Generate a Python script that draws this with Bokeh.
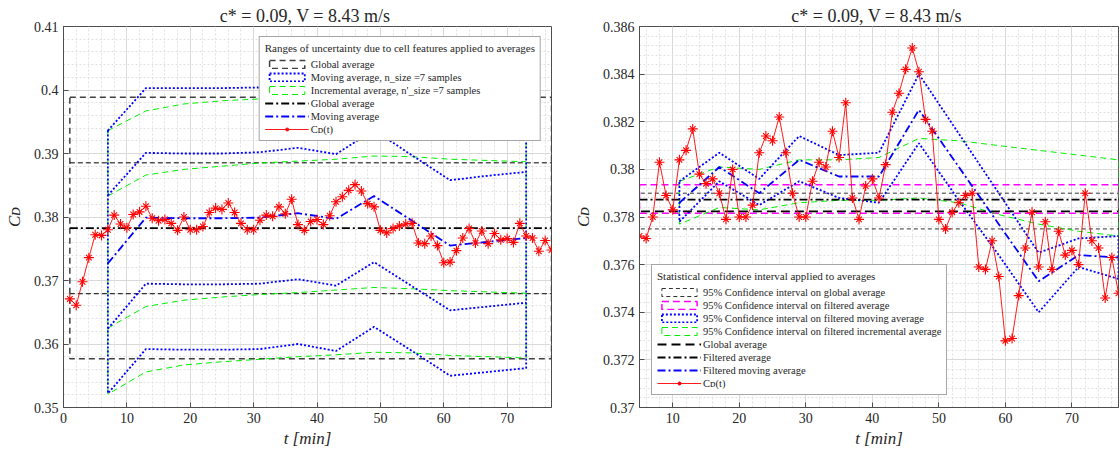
from bokeh.plotting import figure
from bokeh.models import (Range1d, FixedTicker, CustomJSTickFormatter,
                          Legend, LegendItem)
from bokeh.layouts import row
from bokeh.embed import file_html
from bokeh.resources import INLINE

# ---------------- data ----------------
t_cd = list(range(1, 78))
cd = [0.3671, 0.3661, 0.3698, 0.3736, 0.3772, 0.3771, 0.3780, 0.3803, 0.3789, 0.3783,
      0.3804, 0.3808, 0.3817, 0.3798, 0.3794, 0.3796, 0.3790, 0.3779, 0.3800, 0.3780,
      0.3780, 0.3785, 0.3807, 0.3814, 0.3812, 0.3822, 0.3807, 0.3790, 0.3780, 0.3780,
      0.3795, 0.3803, 0.3801, 0.3816, 0.3805, 0.3828, 0.3788, 0.3779, 0.3793, 0.3796,
      0.3788, 0.3802, 0.3824, 0.3832, 0.3842, 0.3851, 0.3841, 0.3821, 0.3816, 0.3779,
      0.3775, 0.3782, 0.3786, 0.3789, 0.3790, 0.3759, 0.3758, 0.3770, 0.3755, 0.3728,
      0.3729, 0.3747, 0.3767, 0.3782, 0.3759, 0.3778, 0.3758, 0.3774, 0.3764, 0.3766,
      0.3760, 0.3790, 0.3770, 0.3767, 0.3746, 0.3763, 0.3748]

# left panel: uncertainty due to cell features
global_avg = 0.37824
global_box = [0.35766, 0.39887]      # lower, upper
global_inner = [0.36792, 0.38853]    # lower, upper
t_ma = [7, 13, 19, 25, 31, 37, 43, 49, 55, 61, 67, 73]
ma = [0.3727, 0.3799, 0.3798, 0.3798, 0.3799, 0.3806, 0.3797, 0.3833, 0.3794, 0.3755, 0.3761, 0.3767]
ma_in_up = [0.3834, 0.3901, 0.3900, 0.3900, 0.3902, 0.3909, 0.3899, 0.3937, 0.3897, 0.3858, 0.3865, 0.3871]
ma_in_lo = [0.3624, 0.3695, 0.3694, 0.3694, 0.3695, 0.3702, 0.3692, 0.3729, 0.3691, 0.3653, 0.3659, 0.3665]
ma_out_up = [0.3936, 0.4003, 0.4003, 0.4003, 0.4004, 0.4011, 0.4002, 0.4040, 0.3999, 0.3959, 0.3965, 0.3972]
ma_out_lo = [0.3522, 0.3592, 0.3591, 0.3591, 0.3592, 0.3600, 0.3589, 0.3627, 0.3589, 0.3550, 0.3556, 0.3562]
inc_out_up = [0.3936, 0.3967, 0.3978, 0.3983, 0.3986, 0.3989, 0.3991, 0.3997, 0.3996, 0.3993, 0.3991, 0.3989]
inc_in_up = [0.3833, 0.3866, 0.3875, 0.3880, 0.3885, 0.3888, 0.3891, 0.3896, 0.3895, 0.3891, 0.3889, 0.3887]
inc_in_lo = [0.3625, 0.3659, 0.3669, 0.3674, 0.3678, 0.3681, 0.3685, 0.3689, 0.3687, 0.3684, 0.3682, 0.3680]
inc_out_lo = [0.3521, 0.3556, 0.3567, 0.3572, 0.3576, 0.3580, 0.3583, 0.3587, 0.3586, 0.3582, 0.3580, 0.3578]

# right panel: statistical confidence intervals
filt_avg = 0.37873
filt_ci = [0.37816, 0.37935]
glob_ci = [0.37750, 0.37900]
filt_start = 5
t_fma = [11, 17, 23, 29, 35, 41, 47, 53, 59, 65, 71, 77]
fma = [0.3786, 0.3801, 0.3790, 0.3804, 0.3797, 0.3797, 0.3825, 0.3801, 0.3777, 0.3753, 0.3764, 0.3763]
fma_up = [0.3795, 0.3807, 0.3796, 0.3814, 0.3806, 0.3807, 0.3840, 0.3815, 0.3790, 0.3765, 0.3771, 0.3772]
fma_lo = [0.3778, 0.3795, 0.3785, 0.3795, 0.3788, 0.3786, 0.3811, 0.3787, 0.3764, 0.3740, 0.3759, 0.3754]
finc_up = [0.3795, 0.3801, 0.3800, 0.3804, 0.3804, 0.3805, 0.3813, 0.3812, 0.3810, 0.3808, 0.3806, 0.3804]
finc_lo = [0.3777, 0.3784, 0.3783, 0.3786, 0.3787, 0.3787, 0.3788, 0.3786, 0.3781, 0.3777, 0.3774, 0.3772]

# tick labels
left_xticks = [0, 10, 20, 30, 40, 50, 60, 70]
left_yticks = [0.35, 0.36, 0.37, 0.38, 0.39, 0.40, 0.41]
right_xticks = [10, 20, 30, 40, 50, 60, 70]
right_yticks = [0.370, 0.372, 0.374, 0.376, 0.378, 0.380, 0.382, 0.384, 0.386]

title_txt = "c* = 0.09,  V = 8.43 m/s"

FONT = "Liberation Serif"
TXT = "#262626"
AX = "#4d4d4d"

fmt = CustomJSTickFormatter(code="return (Math.round(tick*1e6)/1e6).toString();")


def minor_of(lo, hi, step):
    n = int(round((hi - lo) / step))
    return [lo + i * step for i in range(n + 1)]


def make_fig(width, xr, yr, xticks, yticks, xminor, yminor, mleft, mright):
    p = figure(width=width, height=452, x_range=Range1d(*xr), y_range=Range1d(*yr),
               output_backend="svg", toolbar_location=None,
               min_border_left=mleft, min_border_right=mright,
               min_border_top=26, min_border_bottom=45)
    xt = FixedTicker(ticks=xticks, minor_ticks=xminor)
    yt = FixedTicker(ticks=yticks, minor_ticks=yminor)
    p.xaxis[0].ticker = xt
    p.yaxis[0].ticker = yt
    p.xgrid[0].ticker = xt
    p.ygrid[0].ticker = yt
    p.yaxis[0].formatter = fmt
    for g in (p.xgrid[0], p.ygrid[0]):
        g.grid_line_color = "#d9d9d9"
        g.minor_grid_line_color = "#e0e0e0"
        g.minor_grid_line_dash = "2 2"
    p.outline_line_color = AX
    p.outline_line_width = 1
    p.outline_line_alpha = 1
    for a in (p.xaxis[0], p.yaxis[0]):
        a.axis_line_color = AX
        a.major_tick_line_color = AX
        a.major_tick_in = 5
        a.major_tick_out = 0
        a.minor_tick_in = 0
        a.minor_tick_out = 0
        a.major_label_text_font = FONT
        a.major_label_text_font_size = "14px"
        a.major_label_text_color = TXT
        a.major_label_standoff = 5
        a.axis_label_text_font = FONT
        a.axis_label_text_font_size = "17px"
        a.axis_label_text_font_style = "italic"
        a.axis_label_text_color = TXT
    p.xaxis[0].axis_label = "t [min]"
    p.xaxis[0].axis_label_standoff = 3
    p.yaxis[0].axis_label = "Cᴅ"
    p.yaxis[0].axis_label_standoff = 7
    p.title.text = title_txt
    p.title.align = "center"
    p.title.text_font = FONT
    p.title.text_font_size = "18px"
    p.title.text_font_style = "normal"
    p.title.text_color = TXT
    p.title.standoff = 2
    return p


def cd_renderers(p):
    r1 = p.line(t_cd, cd, line_color="#ff0000", line_width=0.9)
    r2 = p.scatter(t_cd, cd, marker="cross", size=10, line_color="#ff0000", line_width=1.1)
    r3 = p.scatter(t_cd, cd, marker="x", size=8, line_color="#ff0000", line_width=1.1)
    return [r1, r2, r3]


def style_legend(lg):
    lg.title_text_font = FONT
    lg.title_text_font_size = "11px"
    lg.title_text_font_style = "normal"
    lg.title_text_color = TXT
    lg.title_standoff = 4
    lg.label_text_font = FONT
    lg.label_text_font_size = "10.5px"
    lg.label_text_color = TXT
    lg.label_height = 12
    lg.glyph_height = 10
    lg.glyph_width = 44
    lg.label_standoff = 2
    lg.spacing = 1
    lg.padding = 5
    lg.border_line_color = AX
    lg.border_line_width = 1
    lg.background_fill_alpha = 1


# ---------------- left figure ----------------
p1 = make_fig(570, (0, 77), (0.35, 0.41), left_xticks, left_yticks,
              minor_of(0, 76, 2), minor_of(0.35, 0.41, 0.002), 63, 19)
t0, t1 = t_cd[0], t_cd[-1]

r_gbox = p1.quad(left=t0, right=t1, bottom=global_box[0], top=global_box[1],
                 fill_alpha=0, line_color="#404040", line_width=1.5, line_dash="6 4")
for v in global_inner:
    p1.line([t0, t1], [v, v], line_color="#000000", line_width=1, line_dash="5 3")

r_inc = p1.patch(t_ma + t_ma[::-1], inc_out_up + inc_out_lo[::-1], fill_alpha=0,
                 line_color="#00ee00", line_width=1, line_dash="6 4")
p1.line(t_ma, inc_in_up, line_color="#00ee00", line_width=1, line_dash="6 4")
p1.line(t_ma, inc_in_lo, line_color="#00ee00", line_width=1, line_dash="6 4")

r_mab = p1.patch(t_ma + t_ma[::-1], ma_out_up + ma_out_lo[::-1], fill_alpha=0,
                 line_color="#0000ff", line_width=1.8, line_dash="2 2")
p1.line(t_ma, ma_in_up, line_color="#0000ff", line_width=1.8, line_dash="2 2")
p1.line(t_ma, ma_in_lo, line_color="#0000ff", line_width=1.8, line_dash="2 2")

r_gavg = p1.line([t0, t1], [global_avg, global_avg], line_color="#000000", line_width=1.8,
                 line_dash="8 3 2 3")
r_ma = p1.line(t_ma, ma, line_color="#0000ff", line_width=1.8, line_dash="8 3 2 3")
r_cd1 = cd_renderers(p1)

lg1 = Legend(items=[
    LegendItem(label="Global average", renderers=[r_gbox]),
    LegendItem(label="Moving average, n_size =7 samples", renderers=[r_mab]),
    LegendItem(label="Incremental average, n'_size =7 samples", renderers=[r_inc]),
    LegendItem(label="Global average", renderers=[r_gavg]),
    LegendItem(label="Moving average", renderers=[r_ma]),
    LegendItem(label="Cᴅ(t)", renderers=r_cd1),
], location="top_right", margin=10,
    title="Ranges of uncertainty due to cell features applied to averages")
style_legend(lg1)
p1.add_layout(lg1)

# ---------------- right figure ----------------
p2 = make_fig(550, (5, 77), (0.37, 0.386), right_xticks, right_yticks,
              minor_of(4, 76, 2), minor_of(0.370, 0.386, 0.0004), 64, 2)

r_gci = p2.quad(left=t0, right=t1, bottom=glob_ci[0], top=glob_ci[1], fill_alpha=0,
                line_color="#333333", line_width=1, line_dash="4 3")
r_fci = p2.quad(left=filt_start, right=t1, bottom=filt_ci[0], top=filt_ci[1], fill_alpha=0,
                line_color="#ff00ff", line_width=1.5, line_dash="7 4")
r_finc = p2.patch(t_fma + t_fma[::-1], finc_up + finc_lo[::-1], fill_alpha=0,
                  line_color="#00ee00", line_width=1, line_dash="6 4")
r_fmab = p2.patch(t_fma + t_fma[::-1], fma_up + fma_lo[::-1], fill_alpha=0,
                  line_color="#0000ff", line_width=1.8, line_dash="2 2")
r_g2 = p2.line([t0, t1], [global_avg, global_avg], line_color="#000000", line_width=1.8,
               line_dash="9 5")
r_f2 = p2.line([filt_start, t1], [filt_avg, filt_avg], line_color="#000000", line_width=1.8,
               line_dash="8 3 2 3")
r_fma = p2.line(t_fma, fma, line_color="#0000ff", line_width=1.8, line_dash="8 3 2 3")
r_cd2 = cd_renderers(p2)

lg2 = Legend(items=[
    LegendItem(label="95% Confidence interval on global average", renderers=[r_gci]),
    LegendItem(label="95% Confidence interval on filtered average", renderers=[r_fci]),
    LegendItem(label="95% Confidence interval on filtered moving average", renderers=[r_fmab]),
    LegendItem(label="95% Confidence interval on filtered incremental average", renderers=[r_finc]),
    LegendItem(label="Global average", renderers=[r_g2]),
    LegendItem(label="Filtered average", renderers=[r_f2]),
    LegendItem(label="Filtered moving average", renderers=[r_fma]),
    LegendItem(label="Cᴅ(t)", renderers=r_cd2),
], location="bottom_left", margin=12,
    title="Statistical confidence interval applied to averages")
style_legend(lg2)
p2.add_layout(lg2)

layout = row(p1, p2)
open("out.html", "w").write(file_html(layout, INLINE))
